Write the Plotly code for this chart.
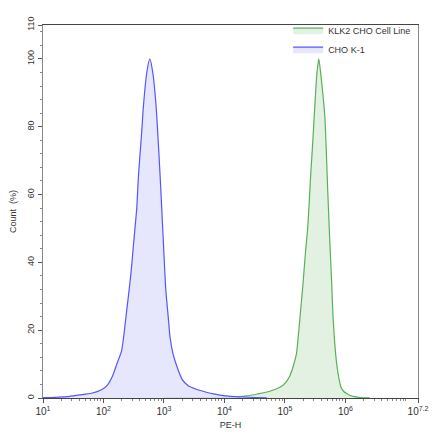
import plotly.graph_objects as go

# PE-H positions as log10 exponents, and Count (%) values
cho_log = [1.0, 1.2, 1.4, 1.6, 1.8, 1.95, 2.05, 2.15, 2.22, 2.30, 2.385, 2.45, 2.50, 2.55,
           2.58, 2.63, 2.66, 2.716, 2.766, 2.815, 2.87, 2.935, 2.99, 3.03, 3.07, 3.10,
           3.15, 3.21, 3.30, 3.40, 3.5, 3.6, 3.7, 3.82, 3.95, 4.1, 4.3, 4.5, 4.7]
cho_count = [0.1, 0.2, 0.4, 0.9, 1.4, 2.3, 3.5, 6.5, 10, 14, 26, 36, 46, 56,
             66, 78, 86, 96, 100, 96, 86, 66, 46, 32, 24, 18,
             13, 9.5, 5.5, 3.6, 2.8, 2.2, 1.7, 1.2, 0.8, 0.5, 0.3, 0.15, 0.05]

klk2_log = [3.0, 3.5, 4.0, 4.37, 4.55, 4.75, 4.9, 4.97, 5.03, 5.08, 5.14, 5.19, 5.23, 5.27,
            5.30, 5.34, 5.38, 5.42, 5.465, 5.50, 5.53, 5.56, 5.59, 5.625, 5.66, 5.71,
            5.74, 5.77, 5.795, 5.82, 5.85, 5.89, 5.93, 5.97, 6.02, 6.07, 6.15, 6.25, 6.4]
klk2_count = [0.05, 0.1, 0.2, 0.6, 1.2, 2.0, 3.0, 3.8, 5, 6.5, 9.5, 13, 20, 28,
              34, 43, 51, 64, 77, 88, 96, 100, 96, 90, 83, 60,
              47, 35, 24, 17, 11, 6, 3, 2, 1.3, 0.8, 0.4, 0.15, 0.05]

x_tick_exp = [1, 2, 3, 4, 5, 6, 7.2]
x_tick_labels = ["10<sup>1</sup>", "10<sup>2</sup>", "10<sup>3</sup>", "10<sup>4</sup>",
                 "10<sup>5</sup>", "10<sup>6</sup>", "10<sup>7.2</sup>"]
y_ticks = [0, 20, 40, 60, 80, 100, 110]

FONT = "Liberation Sans, Arial, sans-serif"

fig = go.Figure()
fig.add_trace(go.Scatter(
    x=[10 ** e for e in klk2_log], y=klk2_count, name="KLK2 CHO Cell Line",
    mode="lines", line=dict(color="rgb(88,176,88)", width=1.2, shape="spline", smoothing=0.6),
    fill="tozeroy", fillcolor="rgba(222,238,222,0.85)"))
fig.add_trace(go.Scatter(
    x=[10 ** e for e in cho_log], y=cho_count, name="CHO K-1",
    mode="lines", line=dict(color="rgb(85,85,255)", width=1.2, shape="spline", smoothing=0.6),
    fill="tozeroy", fillcolor="rgba(226,226,252,0.85)"))

fig.update_layout(
    width=440, height=440,
    margin=dict(l=43, r=22, t=25, b=42),
    paper_bgcolor="white", plot_bgcolor="white",
    font=dict(family=FONT, size=9, color="#333"),
    showlegend=True,
    legend=dict(x=0.995, y=1.025, xanchor="right", yanchor="top",
                bgcolor="rgba(0,0,0,0)", font=dict(size=9, color="#333"),
                tracegroupgap=0, itemwidth=30),
)
fig.update_xaxes(
    type="log", range=[1, 7.2],
    tickmode="array", tickvals=[10 ** e for e in x_tick_exp], ticktext=x_tick_labels,
    ticks="outside", ticklen=4, tickcolor="#555", tickfont=dict(size=10, color="#333"),
    minor=dict(dtick="D1", ticks="outside", ticklen=2, tickcolor="#888", showgrid=False),
    showline=True, linecolor="#444", linewidth=1, mirror=True,
    showgrid=False, zeroline=False,
    title=dict(text="PE-H", font=dict(size=9, color="#333"), standoff=5),
)
fig.update_yaxes(
    range=[0, 110],
    tickmode="array", tickvals=y_ticks,
    tickangle=-90,
    ticks="outside", ticklen=4, tickcolor="#555", tickfont=dict(size=9, color="#333"),
    minor=dict(dtick=4, tick0=0, ticks="outside", ticklen=2, tickcolor="#888", showgrid=False),
    showline=True, linecolor="#888", linewidth=1, mirror=True,
    showgrid=False, zeroline=False,
    title=dict(text="Count  (%)", font=dict(size=9, color="#333"), standoff=8),
)

fig.write_html("out.html")
